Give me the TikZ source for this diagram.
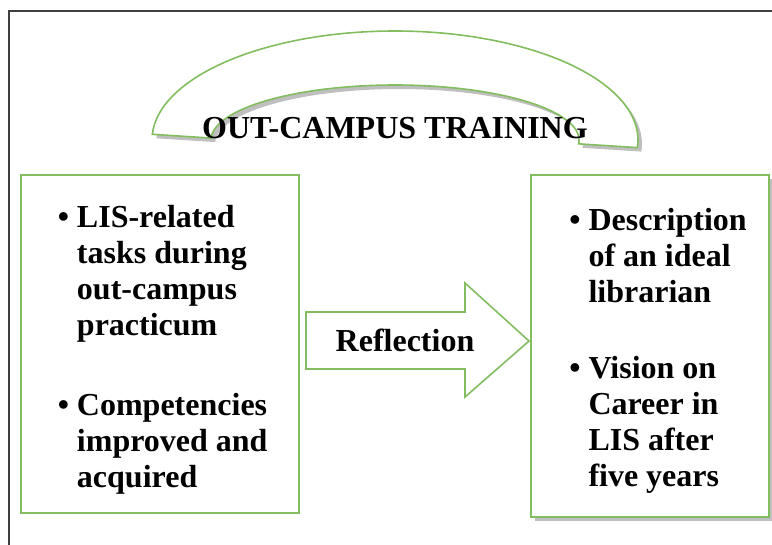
\documentclass[tikz,border=0pt]{standalone}
\usepackage{fontspec}
\setmainfont{Liberation Serif}
\usetikzlibrary{shadows}
\definecolor{leaf}{RGB}{130,190,95}
\definecolor{frame}{RGB}{64,64,64}

\begin{document}
\begin{tikzpicture}[x=0.75pt, y=0.75pt,
    box/.style={draw=leaf, line width=1.2pt, fill=white, inner sep=0pt,
        font=\fontsize{24}{27}\selectfont\bfseries},
    boxshadow/.style={drop shadow={shadow xshift=3pt, shadow yshift=-3pt, opacity=0.5}},
    label/.style={font=\fontsize{24}{27}\selectfont\bfseries, inner sep=0pt}]
    \useasboundingbox (0,0) rectangle (772,-544);
    \draw[frame, line width=1.8pt] (9,-560) -- (9,-11) -- (790,-11);

    % block arc over the title
    \draw[leaf, line width=1.2pt, fill=white, boxshadow]
        ([shift={(395,-140)}]177:243 and 109) arc[start angle=177, end angle=-4, x radius=243, y radius=109]
        -- ([shift={(395,-140)}]-4:184 and 55) arc[start angle=-4, end angle=178, x radius=184, y radius=55]
        -- cycle;
    \node[label, anchor=base] (title) at (395,-138) {OUT-CAMPUS TRAINING};

    \node[box, minimum width=208.5pt, minimum height=253.5pt] (tasks) at (160,-344) {%
        \begin{tabular}{@{\hspace{4pt}}l@{\hspace{6pt}}l@{}}
            \noalign{\vspace{10pt}}
            \textbullet & LIS-related\\
                        & tasks during\\
                        & out-campus\\
                        & practicum\\[33pt]
            \textbullet & Competencies\\
                        & improved and\\
                        & acquired
        \end{tabular}};
    \node[box, boxshadow, minimum width=178.5pt, minimum height=256.5pt] (vision) at (650,-346) {%
        \begin{tabular}{@{\hspace{12pt}}l@{\hspace{6pt}}l@{}}
            \noalign{\vspace{7.5pt}}
            \textbullet & Description\\
                        & of an ideal\\
                        & librarian\\[30pt]
            \textbullet & Vision on\\
                        & Career in\\
                        & LIS after\\
                        & five years
        \end{tabular}};

    % reflection arrow
    \draw[leaf, line width=1.2pt, fill=white]
        (306,-312) -- (465,-312) -- (465,-283) -- (529,-341)
        -- (465,-397) -- (465,-369) -- (306,-369) -- cycle;
    \node[label, anchor=base] (refl) at (405,-351) {Reflection};
\end{tikzpicture}
\end{document}
